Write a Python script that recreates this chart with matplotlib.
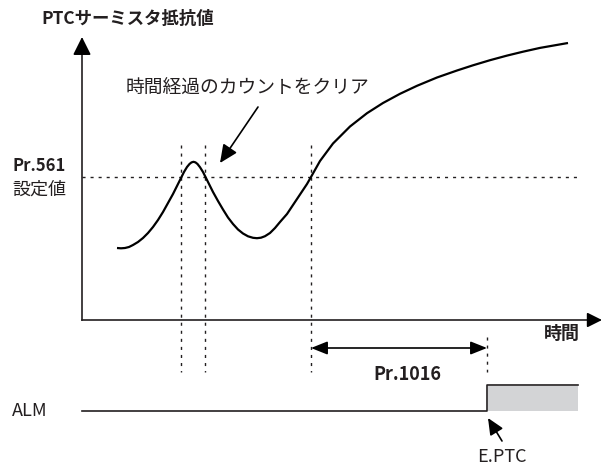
import matplotlib
matplotlib.use("Agg")
import matplotlib.pyplot as plt
from matplotlib.patches import Rectangle

plt.rcParams['font.family'] = ['Noto Sans CJK JP', 'DejaVu Sans']

# 抵抗値カーブ（図の座標、y は下向き）
curve_x = [117, 121, 125, 129, 133, 138, 143, 148, 153, 158, 163, 168, 173, 177,
           181, 184, 187, 189.5, 191.5, 193.5, 195.5, 197.5, 200, 203, 206, 209.5,
           213, 218, 223, 228, 233, 238, 243, 248, 253, 257, 261, 265, 270, 275,
           280, 287, 293, 298, 303, 307, 311, 320, 333, 350, 367, 383, 400, 417,
           437, 457, 473, 490, 507, 523, 540, 568]
curve_y = [248, 248.3, 248, 247, 245, 242, 238, 233, 227, 220, 212, 203, 194, 186,
           178, 172, 167, 164, 162.4, 161.8, 162.4, 164, 167.2, 172, 178, 185,
           192, 201, 209.5, 217.5, 224, 229.5, 233.5, 236.3, 237.8, 238.2, 237.7,
           236.2, 233, 228, 222, 214, 205, 197.5, 190, 184, 177, 161, 143.5,
           126.5, 113.2, 103, 93.8, 85.8, 77.5, 70.5, 65.3, 60.2, 55.6, 51.7,
           47.9, 43]

origin = (82, 320)
y_top = 37
x_end = 602
threshold_y = 177
threshold_end = 580
cross_x = [181, 205, 311]      # Pr.561 を横切る時刻
trip_x = 487                   # E.PTC 発生
alm_low, alm_high = 411, 385
alm_end = 578

ink = '#231f20'
dots = (0, (2.2, 3.6))

fig = plt.figure(figsize=(6.04, 4.68), dpi=100)
ax = fig.add_axes([0, 0, 1, 1])
ax.set_xlim(0, 604)
ax.set_ylim(468, 0)
ax.axis('off')

# 軸
ax.plot([origin[0], x_end - 10], [origin[1], origin[1]], color=ink, lw=1.2)
ax.annotate('', xy=(x_end, origin[1]), xytext=(x_end - 12, origin[1]),
            arrowprops=dict(arrowstyle='-|>,head_length=0.9,head_width=0.45',
                            color='black', lw=1.2, shrinkA=0, shrinkB=0, mutation_scale=10))
ax.plot([origin[0], origin[0]], [origin[1], y_top + 10], color=ink, lw=1.2)
ax.annotate('', xy=(origin[0], y_top), xytext=(origin[0], y_top + 15),
            arrowprops=dict(arrowstyle='-|>,head_length=1.1,head_width=0.55',
                            color='black', lw=1.2, shrinkA=0, shrinkB=0, mutation_scale=10))

# 設定値ライン
ax.plot([origin[0], threshold_end], [threshold_y, threshold_y], color=ink, lw=1.0,
        linestyle=dots)

# 縦の点線
for cx in cross_x:
    ax.plot([cx, cx], [145, 372], color=ink, lw=1.0, linestyle=dots)
ax.plot([trip_x, trip_x], [337, 372], color=ink, lw=1.0, linestyle=dots)

# カーブ
ax.plot(curve_x, curve_y, color='black', lw=1.6, solid_capstyle='butt',
        solid_joinstyle='round')

# Pr.1016 の両矢印
ax.annotate('', xy=(trip_x, 348), xytext=(cross_x[2], 348),
            arrowprops=dict(arrowstyle='<|-|>,head_length=1.0,head_width=0.4',
                            color='black', lw=1.2, shrinkA=0, shrinkB=0, mutation_scale=10))

# ALM 信号
ax.plot([origin[0], trip_x, trip_x, alm_end], [alm_low, alm_low, alm_high, alm_high],
        color=ink, lw=1.2)
ax.add_patch(Rectangle((trip_x + 1, alm_high + 1), alm_end - trip_x - 1,
                       alm_low - alm_high - 1, facecolor='#d3d4d6', edgecolor='none'))

# 注記の矢印
ax.annotate('', xy=(220, 163), xytext=(258, 107),
            arrowprops=dict(arrowstyle='-|>,head_length=1.1,head_width=0.5',
                            color='black', lw=1.2, shrinkA=0, shrinkB=0, mutation_scale=10))
ax.annotate('', xy=(488, 418), xytext=(502, 441),
            arrowprops=dict(arrowstyle='-|>,head_length=1.0,head_width=0.45',
                            color='black', lw=1.2, shrinkA=0, shrinkB=0, mutation_scale=10))

# テキスト
ax.text(41, 19, 'PTCサーミスタ抵抗値', fontsize=12.5, fontweight='bold', color=ink,
        ha='left', va='center')
ax.text(126, 88, '時間経過のカウントをクリア', fontsize=13.5, color=ink, ha='left', va='center')
ax.text(12, 166, 'Pr.561', fontsize=12, fontweight='bold', color=ink, ha='left', va='center')
ax.text(12, 190, '設定値', fontsize=13, color=ink, ha='left', va='center')
ax.text(580, 333, '時間', fontsize=13, fontweight='bold', color=ink, ha='right', va='center')
ax.text(407, 374, 'Pr.1016', fontsize=13, fontweight='bold', color=ink, ha='center', va='center')
ax.text(12, 411, 'ALM', fontsize=13, color=ink, ha='left', va='center')
ax.text(502, 457, 'E.PTC', fontsize=13, color=ink, ha='center', va='center')

fig.savefig('out.png', dpi=100)
